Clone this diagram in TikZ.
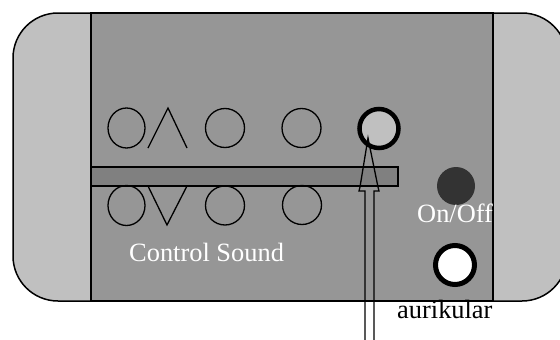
\documentclass[tikz,border=0pt]{standalone}
\usepackage{fontspec}
\setmainfont{Liberation Serif}
\usetikzlibrary{shapes.geometric}
\definecolor{outergray}{RGB}{192,192,192}
\definecolor{panelgray}{RGB}{150,150,150}
\definecolor{bargray}{RGB}{128,128,128}
\definecolor{lightkey}{RGB}{192,192,192}
\definecolor{darkkey}{RGB}{51,51,51}
\begin{document}
\begin{tikzpicture}[x=1pt,y=-1pt,
  frame/.style={draw=black, line width=1.5pt},
  key/.style={circle, draw=black, line width=1.3pt, inner sep=0pt, minimum size=39pt},
  ovalkey/.style={ellipse, draw=black, line width=1.3pt, inner sep=0pt, minimum width=37pt, minimum height=40pt},
  glyph/.style={draw=black, line width=1.3pt},
  txt/.style={font=\fontsize{26.4}{30}\selectfont, inner sep=0pt, anchor=base west}]
\useasboundingbox (0,0) rectangle (560,340);

% housing with rounded ends
\begin{scope}
  \clip (0,0) rectangle (560,340);
  \draw[frame, fill=outergray, rounded corners=45pt] (13,13) rectangle (567,301);
\end{scope}

% central panel and slider bar
\draw[frame, fill=panelgray] (91,13) rectangle (493,301);
\draw[frame, fill=bargray] (91,167) rectangle (398,186);

% upper row of keys
\node[ovalkey] (k1) at (126.5,128) {};
\draw[glyph, line join=miter] (148,148) -- (168,108) -- (187,148);
\node[key] (k2) at (225,128) {};
\node[key] (k3) at (301.5,128) {};
\node[key, fill=lightkey, line width=4.5pt] (sel) at (379,128.5) {};

% lower row of keys
\node[ovalkey] (k4) at (126.5,205.5) {};
\draw[glyph, line join=miter] (148,186) -- (167,225) -- (187,186);
\node[key] (k5) at (225,205.5) {};
\node[key] (k6) at (302,205) {};

% power and headphone buttons
\node[circle, fill=darkkey, inner sep=0pt, minimum size=38pt] (pwr) at (456,186) {};
\node[key, fill=white, line width=5pt] (aux) at (455,265) {};

% hollow pointer arrow
\draw[glyph, line join=miter]
  (365,345) -- (365,191) -- (359,191) -- (360,187) -- (368,138)
  -- (378,187) -- (379,191) -- (374,191) -- (374,345);

% labels
\node[txt, text=white] (lblsound) at (129,261) {Control Sound};
\node[txt, text=white] (lblpwr) at (417,222) {On/Off};
\node[txt, text=black] (lblaux) at (397,318) {aurikular};
\end{tikzpicture}
\end{document}
